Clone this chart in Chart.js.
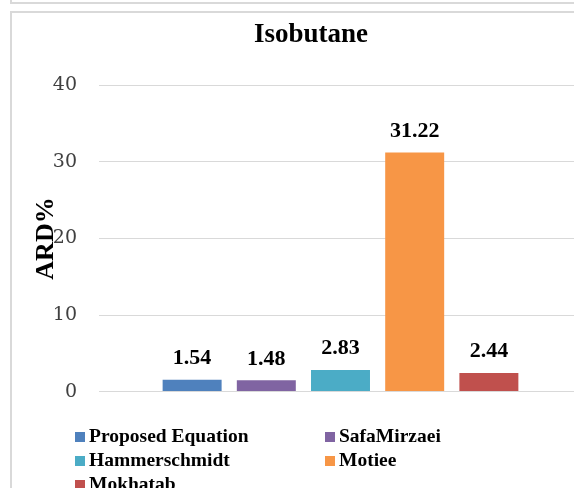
<!DOCTYPE html>
<html lang="en">

<head>
    <meta charset="UTF-8">
    <title>Isobutane</title>
    <style>
        html, body { margin: 0; padding: 0; background: #fff; overflow: hidden; width: 574px; height: 488px; }
        .frame { position: absolute; left: 10px; width: 606px; border: 2px solid #d9d9d9; box-sizing: border-box; }
        #prev-frame { top: -20px; height: 24px; }
        #chart-frame { top: 11px; height: 520px; }
        #chart { position: absolute; left: 0; top: 0; }
        #legend { position: absolute; left: 63px; top: 411px; display: grid; grid-template-columns: 250px 250px;
                  font: bold 19.5px 'Liberation Serif', serif; color: #000; line-height: 24px; }
        #legend span.box { display: inline-block; width: 10px; height: 10px; margin-right: 4px; }
    </style>
</head>

<body>
    <div class="frame" id="prev-frame"></div>
    <div class="frame" id="chart-frame">
        <canvas id="chart" width="598" height="412"></canvas>
        <div id="legend"></div>
    </div>

    <script src="https://cdn.jsdelivr.net/npm/chart.js@4.4.1/dist/chart.umd.min.js"></script>
    <script>
        // данные графика
        const categories = ['Isobutane'];
        const seriesNames = ['Proposed Equation', 'SafaMirzaei', 'Hammerschmidt', 'Motiee', 'Mokhatab'];
        const ardValues = [1.54, 1.48, 2.83, 31.22, 2.44];
        const seriesColors = ['#4f81bd', '#8064a2', '#4bacc6', '#f79646', '#c0504d'];
        const yTicks = [0, 10, 20, 30, 40];

        // подписи значений над столбцами
        const valueLabels = {
            id: 'valueLabels',
            afterDatasetsDraw(chart) {
                const ctx = chart.ctx;
                ctx.save();
                ctx.font = "bold 22px 'Liberation Serif', serif";
                ctx.fillStyle = '#000';
                ctx.textAlign = 'center';
                ctx.textBaseline = 'alphabetic';
                chart.data.datasets.forEach((ds, i) => {
                    const bar = chart.getDatasetMeta(i).data[0];
                    ctx.fillText(ds.data[0].toFixed(2), bar.x, bar.y - 15.5);
                });
                ctx.restore();
            }
        };

        const ctx = document.getElementById('chart').getContext('2d');
        const chart = new Chart(ctx, {
            type: 'bar',
            data: {
                labels: categories,
                datasets: seriesNames.map((name, i) => ({
                    label: name,
                    data: [ardValues[i]],
                    backgroundColor: seriesColors[i],
                    categoryPercentage: 0.768,
                    barPercentage: 0.795
                }))
            },
            options: {
                responsive: false,
                animation: false,
                layout: { padding: { left: 28, right: 28, top: 0, bottom: 11 } },
                plugins: {
                    legend: { display: false },
                    tooltip: { enabled: false },
                    title: {
                        display: true,
                        text: 'Isobutane',
                        color: '#000',
                        font: { family: "'Liberation Serif', serif", size: 27, weight: 'bold' },
                        padding: { top: 6, bottom: 34 }
                    }
                },
                scales: {
                    x: { display: false },
                    y: {
                        min: yTicks[0],
                        max: yTicks[yTicks.length - 1],
                        afterBuildTicks: scale => { scale.ticks = yTicks.map(v => ({ value: v })); },
                        afterFit: scale => { scale.width = 59; },
                        border: { display: false },
                        grid: { color: '#d9d9d9', lineWidth: 1, drawTicks: false },
                        ticks: {
                            color: '#404040',
                            padding: 22,
                            font: { family: "'DejaVu Serif', serif", size: 19 }
                        },
                        title: {
                            display: true,
                            text: 'ARD%',
                            color: '#000',
                            font: { family: "'Liberation Serif', serif", size: 26, weight: 'bold' },
                            padding: { top: -9.6, bottom: 0 }
                        }
                    }
                }
            },
            plugins: [valueLabels]
        });

        // легенда в две колонки
        const legend = document.getElementById('legend');
        chart.data.datasets.forEach(ds => {
            const item = document.createElement('div');
            const box = document.createElement('span');
            box.className = 'box';
            box.style.background = ds.backgroundColor;
            item.appendChild(box);
            item.appendChild(document.createTextNode(ds.label));
            legend.appendChild(item);
        });
    </script>
</body>

</html>
